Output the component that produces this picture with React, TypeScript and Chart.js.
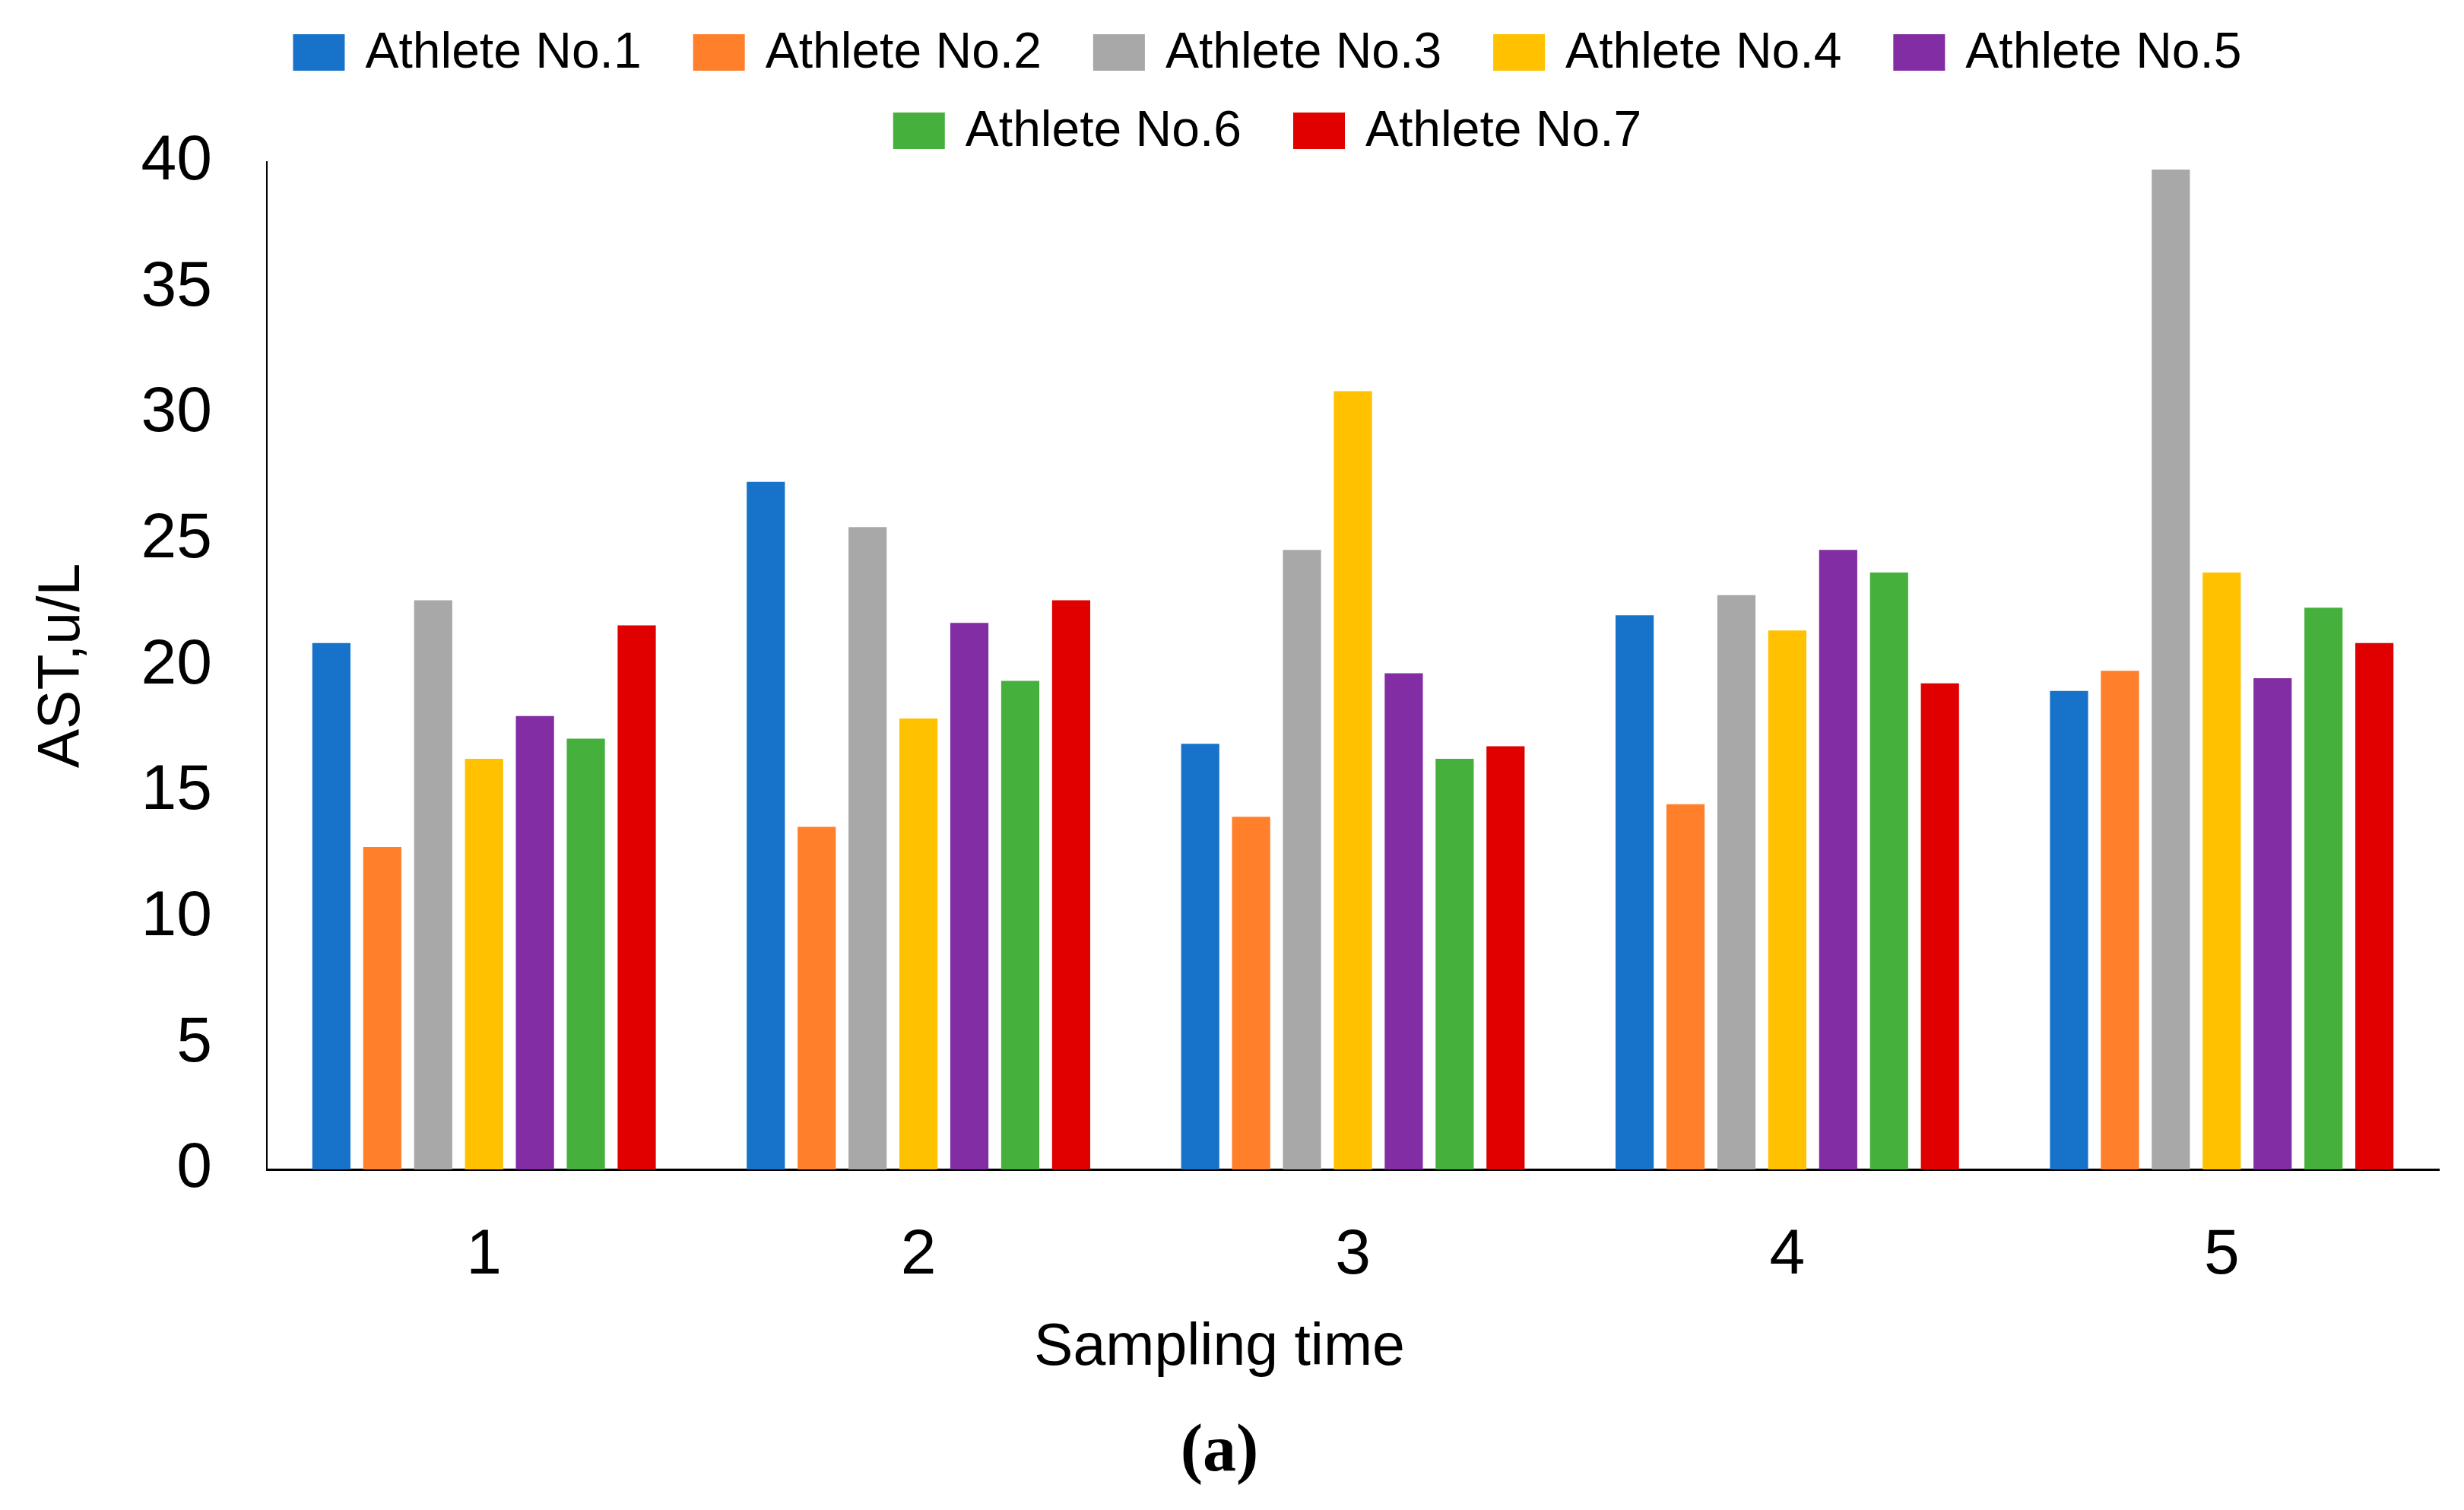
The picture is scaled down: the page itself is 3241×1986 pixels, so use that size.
import React, { useEffect, useRef } from "react";
import { Chart, registerables } from "chart.js";

Chart.register(...registerables);

const categories = ["1", "2", "3", "4", "5"];
const athleteLabels = [
  "Athlete No.1",
  "Athlete No.2",
  "Athlete No.3",
  "Athlete No.4",
  "Athlete No.5",
  "Athlete No.6",
  "Athlete No.7",
];
const athleteColors = ["#1773C9", "#FF7F2A", "#A8A8A8", "#FFC100", "#822DA3", "#46B03C", "#E10000"];

const athlete1 = [20.9, 27.3, 16.9, 22.0, 19.0];
const athlete2 = [12.8, 13.6, 14.0, 14.5, 19.8];
const athlete3 = [22.6, 25.5, 24.6, 22.8, 39.7];
const athlete4 = [16.3, 17.9, 30.9, 21.4, 23.7];
const athlete5 = [18.0, 21.7, 19.7, 24.6, 19.5];
const athlete6 = [17.1, 19.4, 16.3, 23.7, 22.3];
const athlete7 = [21.6, 22.6, 16.8, 19.3, 20.9];

const yTicks = [0, 5, 10, 15, 20, 25, 30, 35, 40];

const FONT = '"Liberation Sans", Arial, sans-serif';

const legendPlugin = {
  id: "customLegend",
  afterDraw(chart: any) {
    const ctx = chart.ctx;
    ctx.save();
    ctx.font = `66px ${FONT}`;
    ctx.textBaseline = "middle";
    ctx.textAlign = "left";
    const boxW = 68;
    const boxH = 48;
    const boxGap = 27;
    const itemGap = 68;
    const centerX = 1667;
    const rows = [
      [0, 1, 2, 3, 4],
      [5, 6],
    ];
    const rowY = [69, 172];
    const ds = chart.data.datasets;
    rows.forEach((row: number[], ri: number) => {
      const widths = row.map((i) => boxW + boxGap + ctx.measureText(ds[i].label).width);
      const total = widths.reduce((a: number, b: number) => a + b, 0) + itemGap * (row.length - 1);
      let x = centerX - total / 2;
      row.forEach((i, k) => {
        ctx.fillStyle = ds[i].backgroundColor;
        ctx.fillRect(x, rowY[ri] - boxH / 2, boxW, boxH);
        ctx.fillStyle = "#000";
        ctx.fillText(ds[i].label, x + boxW + boxGap, rowY[ri] + 2);
        x += widths[k] + itemGap;
      });
    });
    ctx.restore();
  },
};

export default function App() {
  const ref = useRef<HTMLCanvasElement | null>(null);

  useEffect(() => {
    document.body.style.margin = "0";
    const canvas = ref.current;
    if (!canvas) return;
    const series = [athlete1, athlete2, athlete3, athlete4, athlete5, athlete6, athlete7];
    const chart = new Chart(canvas, {
      type: "bar",
      data: {
        labels: categories,
        datasets: series.map((data, i) => ({
          label: athleteLabels[i],
          data,
          backgroundColor: athleteColors[i],
          borderWidth: 0,
          categoryPercentage: 0.82,
          barPercentage: 0.75,
        })),
      },
      options: {
        responsive: false,
        animation: false,
        devicePixelRatio: 1,
        layout: { padding: { top: 213, right: 33, bottom: 0, left: 0 } },
        plugins: {
          legend: { display: false },
          tooltip: { enabled: false },
          title: {
            display: true,
            text: "(a)",
            position: "bottom",
            color: "#000",
            font: { family: '"Liberation Serif", "Times New Roman", serif', size: 88, weight: "bold" },
            padding: { top: 0, bottom: 22 },
          },
          subtitle: {
            display: true,
            text: "Sampling time",
            position: "bottom",
            color: "#000",
            font: { family: FONT, size: 77 },
            padding: { top: 0, bottom: 38 },
          },
        },
        scales: {
          x: {
            grid: { display: false, drawTicks: false },
            border: { display: true, color: "#000", width: 3 },
            ticks: { color: "#000", font: { family: FONT, size: 84 }, padding: 63 },
            afterFit: (scale: any) => {
              scale.height = 190;
            },
          },
          y: {
            min: 0,
            max: 40,
            grid: { display: false, drawTicks: false },
            border: { display: true, color: "#000", width: 2 },
            afterBuildTicks: (scale: any) => {
              scale.ticks = yTicks.map((v) => ({ value: v }));
            },
            ticks: { color: "#000", font: { family: FONT, size: 84 }, padding: 72 },
            title: {
              display: true,
              text: "AST,u/L",
              color: "#000",
              font: { family: FONT, size: 77 },
              padding: { top: 37, bottom: 0 },
            },
            afterFit: (scale: any) => {
              scale.width = 351;
            },
          },
        },
      },
      plugins: [legendPlugin],
    });
    return () => chart.destroy();
  }, []);

  return (
    <div style={{ width: 3241, height: 1986, background: "#fff" }}>
      <canvas ref={ref} width={3241} height={1986} />
    </div>
  );
}
